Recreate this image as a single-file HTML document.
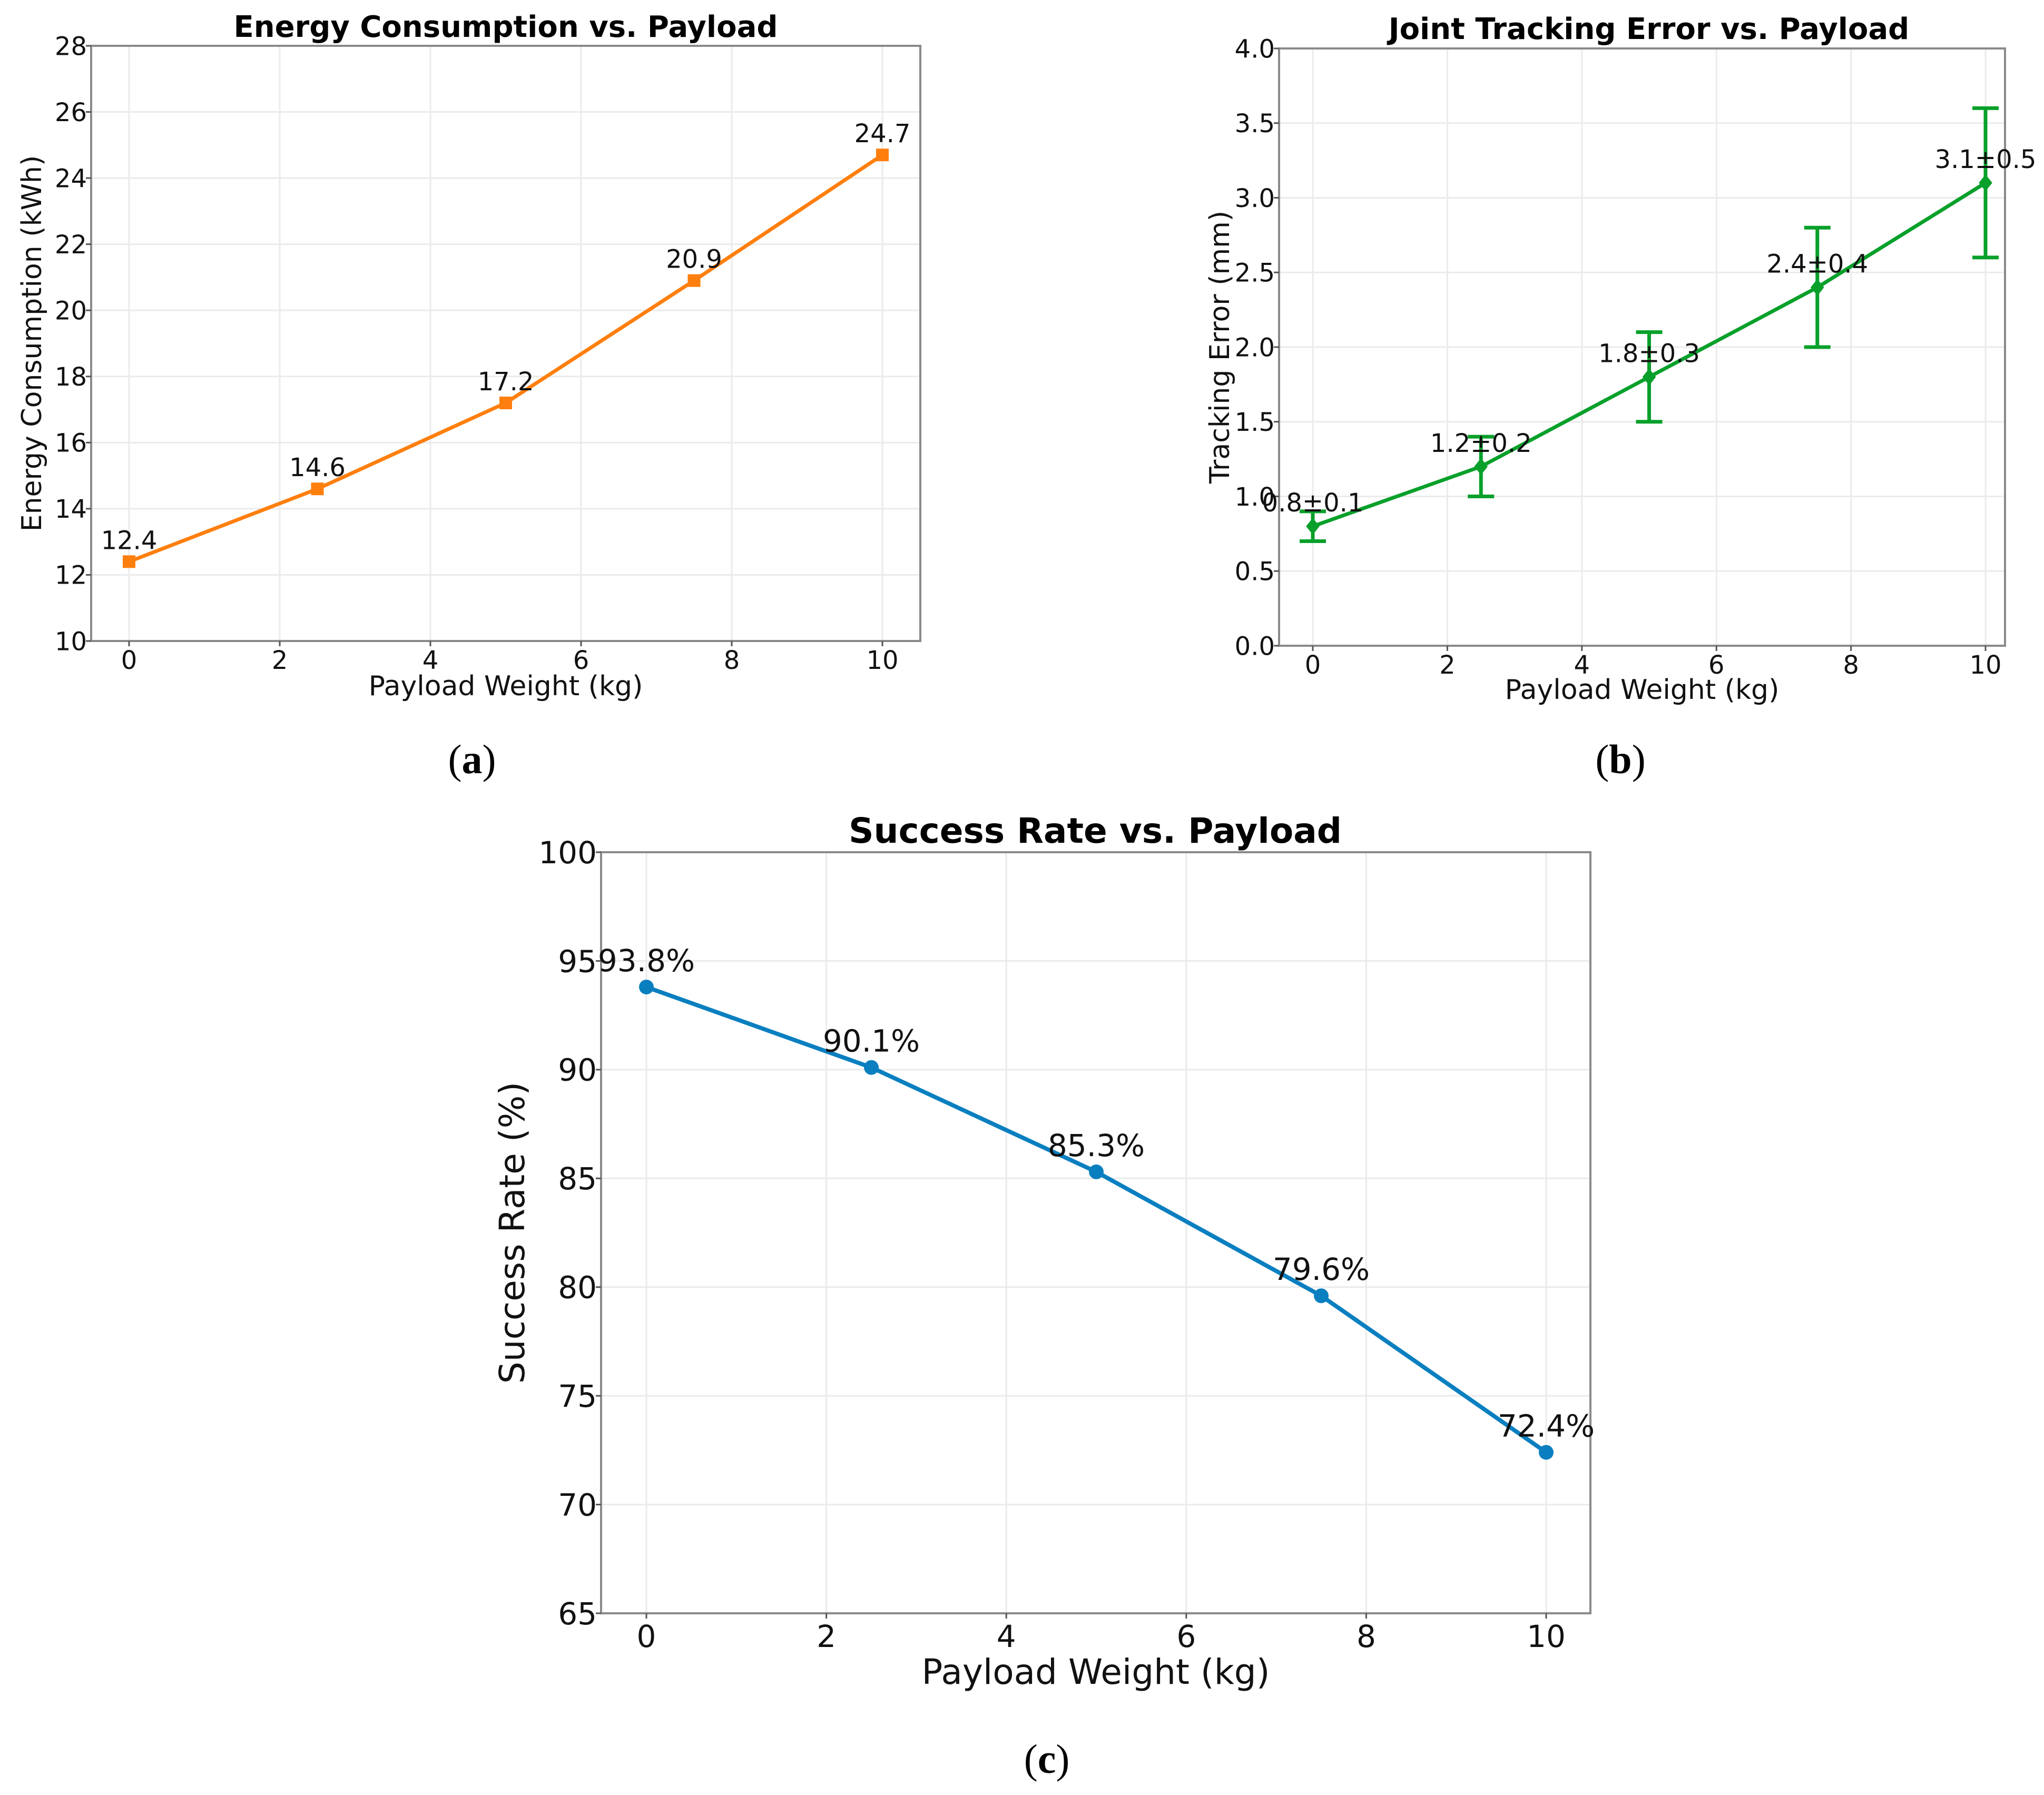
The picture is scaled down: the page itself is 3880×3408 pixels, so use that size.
<!DOCTYPE html>
<html><head><meta charset="utf-8"><style>
html,body{margin:0;padding:0;background:#fff;}
svg{display:block;font-family:"DejaVu Sans","Liberation Sans",sans-serif;}
</style></head><body>
<svg id="fig" width="3880" height="3408" viewBox="0 0 3880 3408" xmlns="http://www.w3.org/2000/svg"></svg>
<script>
const xCats = [0, 2.5, 5, 7.5, 10];
const xTicks = [0, 2, 4, 6, 8, 10];
const energyVals = [12.4, 14.6, 17.2, 20.9, 24.7];
const energyTicks = [10, 12, 14, 16, 18, 20, 22, 24, 26, 28];
const errVals = [0.8, 1.2, 1.8, 2.4, 3.1];
const errStd = [0.1, 0.2, 0.3, 0.4, 0.5];
const errTicks = [0.0, 0.5, 1.0, 1.5, 2.0, 2.5, 3.0, 3.5, 4.0];
const successVals = [93.8, 90.1, 85.3, 79.6, 72.4];
const successTicks = [65, 70, 75, 80, 85, 90, 95, 100];

const NS = "http://www.w3.org/2000/svg";
const svg = document.getElementById('fig');
function mk(tag, attrs, parent, txt){
  const e = document.createElementNS(NS, tag);
  for (const k in attrs) e.setAttribute(k, attrs[k]);
  if (txt !== undefined) e.textContent = txt;
  (parent || svg).appendChild(e);
  return e;
}

function panel(o){
  const g = mk('g', {});
  
  
  const X = v => o.x0 + (v - 0) / 10 * (o.x10 - o.x0);
  const Y = v => o.bottom - (v - o.ymin) / (o.ymax - o.ymin) * (o.bottom - o.top);
  xTicks.forEach(t => {
    const l = mk('line', {x1:X(t), x2:X(t), y1:o.top, y2:o.bottom, stroke:'#ebebeb', 'stroke-width':3}, g);
    
    
  });
  o.yTicks.forEach(t => {
    const l = mk('line', {x1:o.left, x2:o.right, y1:Y(t), y2:Y(t), stroke:'#ebebeb', 'stroke-width':3}, g);
    
    
  });
  const fr = mk('rect', {x:o.left, y:o.top, width:o.right-o.left, height:o.bottom-o.top, fill:'none', stroke:'#8a8a8a', 'stroke-width':4}, g);
  
  
  xTicks.forEach(t => {
    mk('line', {x1:X(t), x2:X(t), y1:o.bottom, y2:o.bottom+10, stroke:'#555', 'stroke-width':3}, g);
    const tx = mk('text', {x:X(t), y:o.bottom+o.tickFs*1.1, 'font-size':o.tickFs, 'text-anchor':'middle', fill:'#111'}, g, String(t));
    
    
  });
  o.yTicks.forEach(t => {
    mk('line', {x1:o.left-10, x2:o.left, y1:Y(t), y2:Y(t), stroke:'#555', 'stroke-width':3}, g);
    const tx = mk('text', {x:o.left-8, y:Y(t)+o.tickFs*0.36, 'font-size':o.tickFs, 'text-anchor':'end', fill:'#111'}, g, o.fmt(t));
    
    
  });
  const ti = mk('text', {x:o.titleX, y:o.titleY, 'font-size':o.titleFs, 'font-weight':'bold', 'text-anchor':'middle', fill:'#000'}, g, o.title);
  
  
  const xl = mk('text', {x:(o.left+o.right)/2, y:o.xlabY, 'font-size':o.labFs, 'text-anchor':'middle', fill:'#111'}, g, 'Payload Weight (kg)');
  
  
  const yl = mk('text', {x:0, y:0, 'font-size':o.labFs, 'text-anchor':'middle', fill:'#111', transform:`translate(${o.ylabX},${(o.top+o.bottom)/2}) rotate(-90)`}, g, o.ylab);
  
  
  if (o.err) {
    o.vals.forEach((v,i) => {
      const e = o.err[i], x = X(xCats[i]);
      const eg = mk('g', {stroke:o.color, 'stroke-width':7}, g);
      
      
      mk('line', {x1:x, x2:x, y1:Y(v-e), y2:Y(v+e)}, eg);
      mk('line', {x1:x-25, x2:x+25, y1:Y(v-e), y2:Y(v-e)}, eg);
      mk('line', {x1:x-25, x2:x+25, y1:Y(v+e), y2:Y(v+e)}, eg);
    });
  }
  const pts = o.vals.map((v,i) => X(xCats[i]) + ',' + Y(v)).join(' ');
  const pl = mk('polyline', {points:pts, fill:'none', stroke:o.color, 'stroke-width':o.lw, 'stroke-linejoin':'round'}, g);
  
  
  o.vals.forEach((v,i) => {
    const x = X(xCats[i]), y = Y(v);
    let m;
    if (o.marker === 'square') m = mk('rect', {x:x-o.ms, y:y-o.ms, width:2*o.ms, height:2*o.ms, fill:o.color}, g);
    else if (o.marker === 'diamond') m = mk('polygon', {points:`${x},${y-o.ms} ${x+o.ms*0.8},${y} ${x},${y+o.ms} ${x-o.ms*0.8},${y}`, fill:o.color}, g);
    else m = mk('circle', {cx:x, cy:y, r:o.ms, fill:o.color}, g);
    
    
    const lab = o.labFmt(v,i);
    const t = mk('text', {x:x, y:y-o.lblOff, 'font-size':o.lblFs, 'text-anchor':'middle', fill:'#111'}, g, lab);
    
    
  });
}

panel({name:'energy-chart', left:173, right:1747, top:87, bottom:1217, x0:245, x10:1675,
  ymin:10, ymax:28, yTicks:energyTicks, fmt:t=>String(t), vals:energyVals,
  color:'#ff7f0e', lw:7, marker:'square', ms:12, tickFs:48, labFs:52, titleFs:56, lblFs:48, lblOff:24,
  title:'Energy Consumption vs. Payload', titleX:960, titleY:70, xlabY:1320, ylabX:78,
  ylab:'Energy Consumption (kWh)', labFmt:v=>v.toFixed(1)});

panel({name:'tracking-error-chart', left:2428, right:3806, top:92, bottom:1226, x0:2492, x10:3769,
  ymin:0, ymax:4, yTicks:errTicks, fmt:t=>t.toFixed(1), vals:errVals, err:errStd,
  color:'#08a02a', lw:7, marker:'diamond', ms:16, tickFs:48, labFs:52, titleFs:56, lblFs:48, lblOff:28,
  title:'Joint Tracking Error vs. Payload', titleX:3130, titleY:74, xlabY:1327, ylabX:2333,
  ylab:'Tracking Error (mm)', labFmt:(v,i)=>v.toFixed(1)+'±'+errStd[i].toFixed(1)});

panel({name:'success-rate-chart', left:1141, right:3019, top:1618, bottom:3063, x0:1227, x10:2935,
  ymin:65, ymax:100, yTicks:successTicks, fmt:t=>String(t), vals:successVals,
  color:'#0a7fc0', lw:8, marker:'circle', ms:14, tickFs:58, labFs:66, titleFs:66, lblFs:58, lblOff:30,
  title:'Success Rate vs. Payload', titleX:2079, titleY:1600, xlabY:3197, ylabX:995,
  ylab:'Success Rate (%)', labFmt:v=>v.toFixed(1)+'%'});

[['(a)',896,1468],['(b)',3076,1468],['(c)',1987,3366]].forEach(([s,x,y]) => {
  const t = mk('text', {x:x, y:y, 'font-size':78, 'text-anchor':'middle', fill:'#000', 'font-family':'"Liberation Serif",serif'});
  
  
  const b = s.charAt(1);
  t.appendChild(document.createTextNode('('));
  mk('tspan', {'font-weight':'bold'}, t, b);
  t.appendChild(document.createTextNode(')'));
});
</script>
</body></html>
